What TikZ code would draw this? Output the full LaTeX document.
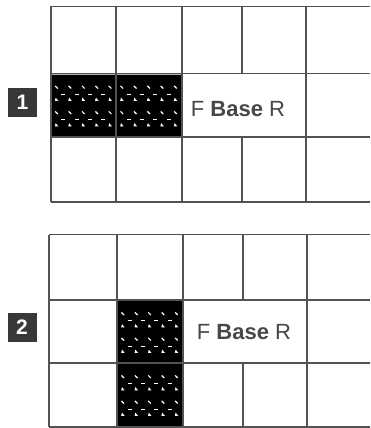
\documentclass[tikz,border=0pt]{standalone}
\usepackage{fontspec}
\setmainfont{Liberation Sans}
\begin{document}
\begin{tikzpicture}[x=1pt,y=-1pt,
  gridline/.style={draw=black!68,line width=1.6pt},
  speck/.style={draw=white,line width=1.2pt},
  numbox/.style={fill=black!78,text=white,minimum size=29pt,inner sep=0pt,font=\fontsize{21}{24}\selectfont\bfseries},
  celltext/.style={text=black!72,inner sep=0pt,font=\fontsize{22}{26}\selectfont}]
\useasboundingbox (0,0) rectangle (370,428);
\fill[white] (0,0) rectangle (370,428);
% pattern macro
\newcommand\speckle[4]{% x0 y0 x1 y1
  \fill[black] (#1,#2) rectangle (#3,#4);
  \draw[draw=black!30,line width=0.8pt] (#1,#2) rectangle (#3,#4);
  \foreach \g in {0,1}{
    \foreach \i in {0,...,4}{
      \pgfmathsetmacro\xx{#1+5+\i*13.4}
      \pgfmathsetmacro\yy{#2+13+\g*25.5}
      \draw[speck] (\xx-1.3,\yy-1.3) -- (\xx+1.3,\yy+1.3);
      \fill[white] (\xx-1.6,\yy+13.6) -- (\xx+1.8,\yy+13.6) -- (\xx-0.8,\yy+10.4) -- cycle;
    }
    \foreach \i in {0,...,3}{
      \pgfmathsetmacro\xx{#1+11.7+\i*13.4}
      \pgfmathsetmacro\yy{#2+20+\g*25.5}
      \draw[speck] (\xx-2,\yy) -- (\xx+2,\yy);
    }
  }
}
% ---- grid 1 ----
\speckle{51.5}{74.2}{115.3}{136.3}
\speckle{116.8}{74.2}{181.2}{136.3}
\draw[gridline] (50.7,6.5) -- (370,6.5);
\draw[gridline] (50.7,73.5) -- (370,73.5);
\draw[gridline] (50.7,137) -- (370,137);
\draw[gridline] (50.7,202) -- (370,202);
\draw[gridline] (50.7,6.5) -- (50.7,202);
\draw[gridline] (116,6.5) -- (116,202);
\draw[gridline] (182,6.5) -- (182,202);
\draw[gridline] (242,6.5) -- (242,73.5);
\draw[gridline] (242,137) -- (242,202);
\draw[gridline] (306,6.5) -- (306,202);
\node[numbox] (n1) at (22.5,102.5) {1};
\node[celltext,anchor=base west] (t1) at (190.7,116) {F \textbf{Base} R};
% ---- grid 2 ----
\speckle{117.8}{300.7}{182.2}{362.3}
\speckle{117.8}{363.7}{182.2}{426.5}
\draw[gridline] (49,234.5) -- (370,234.5);
\draw[gridline] (49,300) -- (370,300);
\draw[gridline] (49,363) -- (370,363);
\draw[gridline] (49,427) -- (370,427);
\draw[gridline] (49,234.5) -- (49,427);
\draw[gridline] (117,234.5) -- (117,427);
\draw[gridline] (183,234.5) -- (183,427);
\draw[gridline] (243,234.5) -- (243,300);
\draw[gridline] (243,363) -- (243,427);
\draw[gridline] (307,234.5) -- (307,427);
\node[numbox] (n2) at (22,327.5) {2};
\node[celltext,anchor=base west] (t2) at (196.7,339.3) {F \textbf{Base} R};
\end{tikzpicture}
\end{document}
